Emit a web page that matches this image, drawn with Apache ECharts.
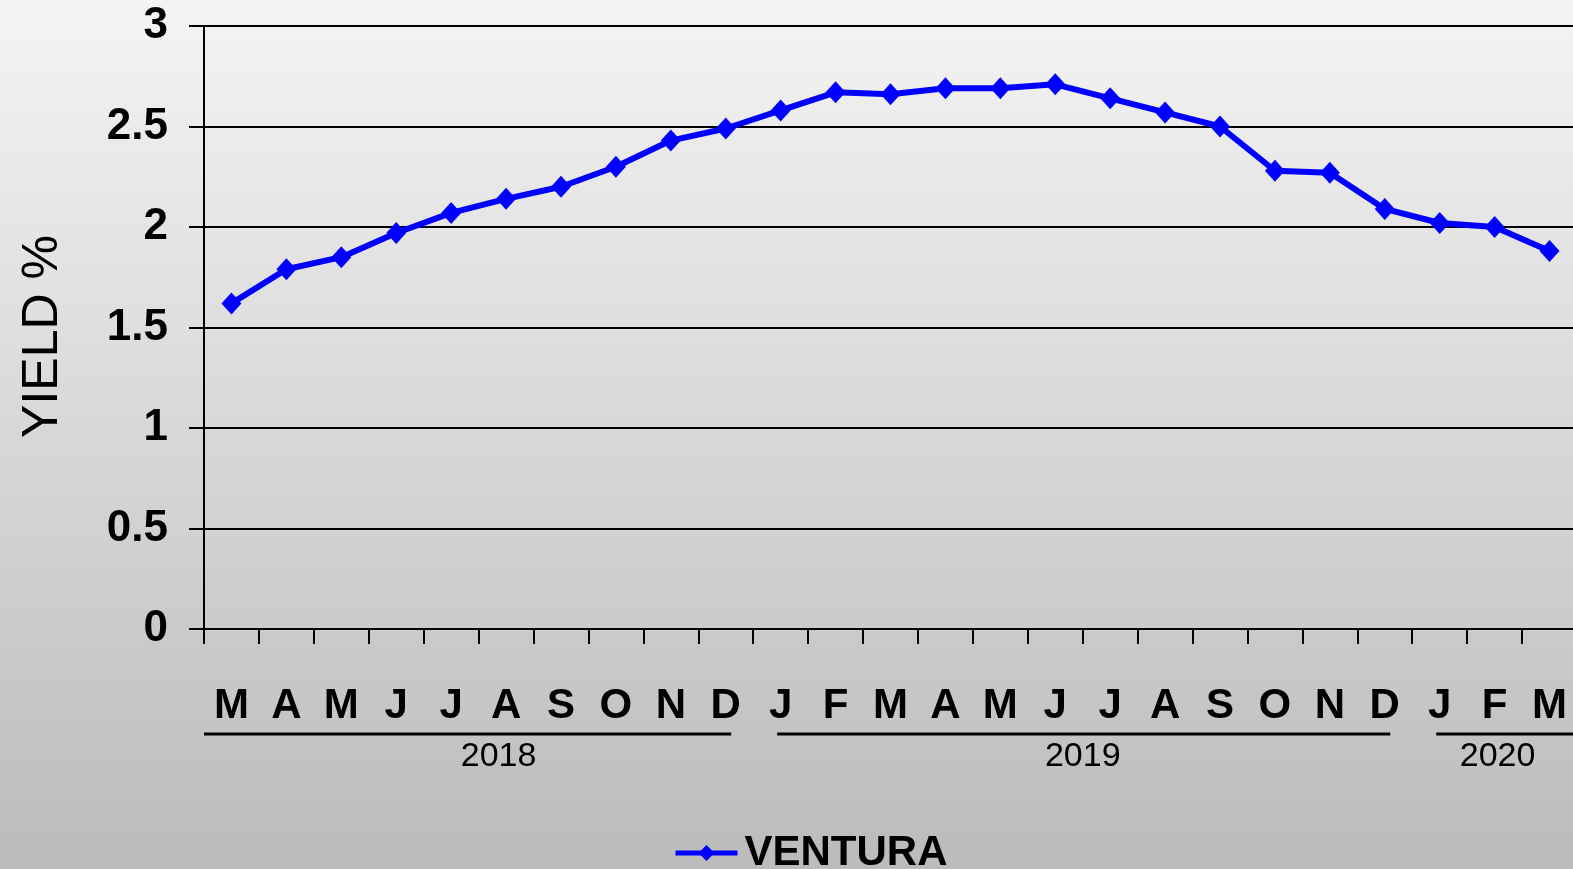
<!DOCTYPE html>
<html>
<head>
<meta charset="utf-8">
<script src="https://cdn.jsdelivr.net/npm/echarts@6/dist/echarts.min.js"></script>
<style>
html,body{margin:0;padding:0;}
#c{width:1573px;height:869px;}
</style>
</head>
<body>
<div id="c"></div>
<script>
const categories = ['2018-03','2018-04','2018-05','2018-06','2018-07','2018-08','2018-09','2018-10','2018-11','2018-12',
  '2019-01','2019-02','2019-03','2019-04','2019-05','2019-06','2019-07','2019-08','2019-09','2019-10','2019-11','2019-12',
  '2020-01','2020-02','2020-03'];
const monthLabels = ['M','A','M','J','J','A','S','O','N','D','J','F','M','A','M','J','J','A','S','O','N','D','J','F','M'];
const ventura = [1.62,1.79,1.85,1.97,2.07,2.14,2.20,2.30,2.43,2.49,2.58,2.67,2.66,2.69,2.69,2.71,2.64,2.57,2.50,2.28,2.27,2.09,2.02,2.00,1.88];
const yAxisTicks = [0,0.5,1,1.5,2,2.5,3];
const yearLabels = ['2018','2019','2020'];
const yearStart = [0,10,22];
const yearEnd = [9,21,24];

// layout (not data)
const yearTextDx = [20, 0, 3];
const FONT = '"Liberation Sans", Arial, sans-serif';

const chart = echarts.init(document.getElementById('c'), null, {renderer:'canvas'});
const option = {
  animation: false,
  backgroundColor: {
    type: 'linear', x: 0, y: 0, x2: 0, y2: 1,
    colorStops: [{offset: 0, color: '#f4f4f4'}, {offset: 1, color: '#bbbbbb'}]
  },
  grid: {left: 204, top: 26, width: 1373, bottom: 240, containLabel: false, outerBoundsMode: 'none'},
  legend: {
    data: ['VENTURA'],
    left: 668, top: 827,
    itemWidth: 62, itemHeight: 20, itemGap: 10,
    lineStyle: {width: 5},
    textStyle: {fontFamily: FONT, fontWeight: 'bold', fontSize: 42, color: '#000', padding: [0,0,0,2]}
  },
  xAxis: {
    type: 'category',
    data: categories,
    boundaryGap: true,
    axisLine: {lineStyle: {color: '#000', width: 2}},
    axisTick: {show: true, length: 15, lineStyle: {color: '#000', width: 2}, alignWithLabel: false},
    axisLabel: {
      interval: 0, margin: 56,
      formatter: (v, i) => monthLabels[i],
      fontFamily: FONT, fontWeight: 'bold', fontSize: 42, color: '#000'
    },
    splitLine: {show: false}
  },
  yAxis: {
    type: 'value',
    min: yAxisTicks[0], max: yAxisTicks[yAxisTicks.length-1], interval: 0.5,
    name: 'YIELD %', nameLocation: 'middle', nameRotate: 90, nameGap: 136,
    nameTextStyle: {fontFamily: FONT, fontSize: 50, color: '#000', padding: [0, 18, 0, 0]},
    axisLine: {show: true, lineStyle: {color: '#000', width: 2}},
    axisTick: {show: true, length: 15, lineStyle: {color: '#000', width: 2}},
    axisLabel: {margin: 36, fontFamily: FONT, fontWeight: 'bold', fontSize: 44, color: '#000',
      padding: [10, 0, 0, 0],
      formatter: v => String(v)},
    splitLine: {show: true, lineStyle: {color: '#000', width: 2}}
  },
  series: [{
    name: 'VENTURA',
    type: 'line',
    data: ventura,
    symbol: 'diamond',
    symbolSize: [20, 22],
    lineStyle: {color: '#0000ff', width: 6},
    itemStyle: {color: '#0000ff'},
    z: 5
  }]
};
chart.setOption(option);

const px = i => chart.convertToPixel({xAxisIndex: 0}, i);
const step = px(1) - px(0);
const boundary = i => px(i) - step / 2;
const lineY = 734, textY = 757;
const gfx = [];
for (let k = 0; k < yearLabels.length; k++) {
  const s = yearStart[k], e = yearEnd[k];
  const x1 = s === 0 ? boundary(0) : boundary(s) + 24;
  const x2 = e === categories.length - 1 ? 1573 : boundary(e + 1) - 22;
  gfx.push({type: 'line', shape: {x1: x1, y1: lineY, x2: x2, y2: lineY}, style: {stroke: '#000', lineWidth: 3}, silent: true});
  const cx = (px(s) + px(e)) / 2 + yearTextDx[k];
  gfx.push({type: 'text', x: cx, y: textY, style: {text: yearLabels[k], fill: '#000', font: '34px ' + FONT, align: 'center', verticalAlign: 'middle'}, silent: true});
}
chart.setOption({graphic: gfx});
</script>
</body>
</html>
